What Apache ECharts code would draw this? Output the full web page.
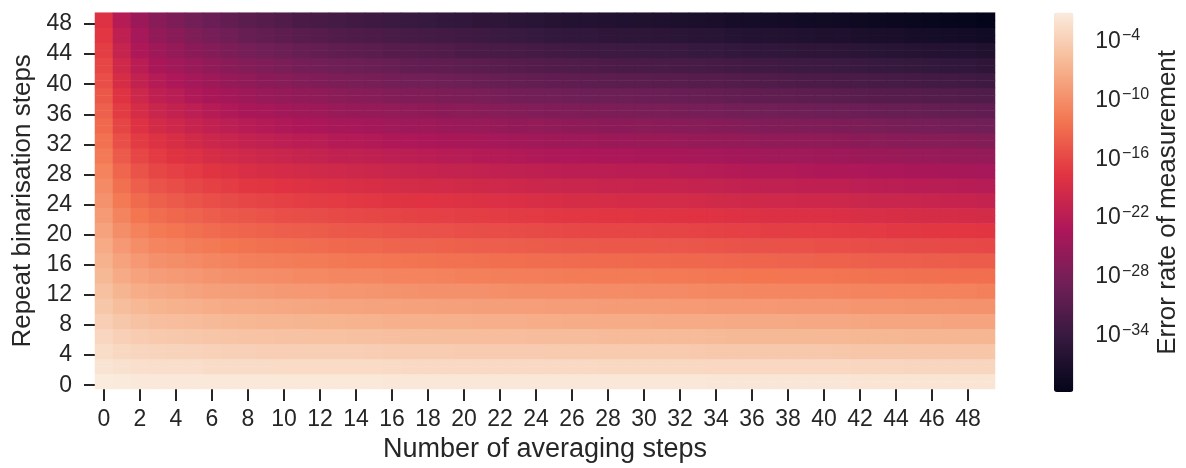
<!DOCTYPE html>
<html><head><meta charset="utf-8">
<script src="https://cdn.jsdelivr.net/npm/echarts@6/dist/echarts.min.js"></script>
<style>html,body{margin:0;padding:0;background:#fff}#c{width:1186px;height:468px}</style>
</head><body><div id="c"></div>
<script>
// x categories: number of averaging steps
const averagingSteps = ['0','1','2','3','4','5','6','7','8','9','10','11','12','13','14','15','16','17','18','19','20','21','22','23','24','25','26','27','28','29','30','31','32','33','34','35','36','37','38','39','40','41','42','43','44','45','46','47','48','49'];
// y categories: repeat binarisation steps
const repeatSteps = ['0','1','2','3','4','5','6','7','8','9','10','11','12','13','14','15','16','17','18','19','20','21','22','23','24','25','26','27','28','29','30','31','32','33','34','35','36','37','38','39','40','41','42','43','44','45','46','47','48','49'];
// colour-bar tick exponents (log10 of error rate)
const colorbarTicks = [-4, -10, -16, -22, -28, -34];
const colorRange = [-39.8, -1.2];
const rocket = ['#03051A','#35193E','#701F57','#AD1759','#E13342','#F37651','#F6B48F','#FAEBDD'];
// log10(error rate); one list per averaging step,
// one value per pair of repeat-binarisation rows (0-1, 2-3, ..., 48-49)
const logErrorByAveraging = [
[-1.2,-1.9,-2.6,-3.3,-4,-4.8,-5.5,-6.2,-6.9,-7.6,-8.3,-9,-9.7,-10.4,-11.1,-11.9,-12.6,-13.3,-14,-14.7,-15.4,-16.1,-16.8,-17.5,-18.2],
[-1.3,-2.2,-3.1,-3.9,-4.8,-5.7,-6.6,-7.5,-8.3,-9.2,-10.1,-11,-11.9,-12.7,-13.6,-14.5,-15.4,-16.3,-17.1,-18,-18.9,-19.8,-20.7,-21.5,-22.4],
[-1.4,-2.4,-3.4,-4.3,-5.3,-6.3,-7.3,-8.3,-9.2,-10.2,-11.2,-12.2,-13.2,-14.1,-15.1,-16.1,-17.1,-18.1,-19,-20,-21,-22,-23,-23.9,-24.9],
[-1.4,-2.5,-3.5,-4.6,-5.6,-6.7,-7.7,-8.8,-9.8,-10.9,-11.9,-13,-14,-15.1,-16.1,-17.2,-18.2,-19.3,-20.3,-21.4,-22.4,-23.5,-24.5,-25.6,-26.6],
[-1.4,-2.5,-3.6,-4.7,-5.8,-6.9,-7.9,-9,-10.1,-11.2,-12.3,-13.4,-14.5,-15.6,-16.7,-17.8,-18.8,-19.9,-21,-22.1,-23.2,-24.3,-25.4,-26.5,-27.6],
[-1.4,-2.5,-3.7,-4.8,-5.9,-7.1,-8.2,-9.3,-10.4,-11.6,-12.7,-13.8,-15,-16.1,-17.2,-18.4,-19.5,-20.6,-21.7,-22.9,-24,-25.1,-26.3,-27.4,-28.5],
[-1.5,-2.7,-3.8,-5,-6.1,-7.3,-8.5,-9.6,-10.8,-11.9,-13.1,-14.3,-15.4,-16.6,-17.7,-18.9,-20.1,-21.2,-22.4,-23.5,-24.7,-25.9,-27,-28.2,-29.3],
[-1.5,-2.7,-3.9,-5.1,-6.3,-7.5,-8.6,-9.8,-11,-12.2,-13.4,-14.6,-15.8,-17,-18.2,-19.4,-20.5,-21.7,-22.9,-24.1,-25.3,-26.5,-27.7,-28.9,-30.1],
[-1.5,-2.7,-3.9,-5.2,-6.4,-7.6,-8.8,-10,-11.3,-12.5,-13.7,-14.9,-16.1,-17.4,-18.6,-19.8,-21,-22.2,-23.5,-24.7,-25.9,-27.1,-28.3,-29.6,-30.8],
[-1.5,-2.7,-4,-5.2,-6.5,-7.7,-8.9,-10.2,-11.4,-12.7,-13.9,-15.1,-16.4,-17.6,-18.9,-20.1,-21.3,-22.6,-23.8,-25.1,-26.3,-27.5,-28.8,-30,-31.3],
[-1.5,-2.8,-4,-5.3,-6.5,-7.8,-9.1,-10.3,-11.6,-12.8,-14.1,-15.4,-16.6,-17.9,-19.1,-20.4,-21.7,-22.9,-24.2,-25.4,-26.7,-28,-29.2,-30.5,-31.7],
[-1.5,-2.8,-4.1,-5.3,-6.6,-7.9,-9.2,-10.5,-11.7,-13,-14.3,-15.6,-16.9,-18.1,-19.4,-20.7,-22,-23.3,-24.5,-25.8,-27.1,-28.4,-29.7,-30.9,-32.2],
[-1.5,-2.8,-4.1,-5.4,-6.7,-8,-9.2,-10.5,-11.8,-13.1,-14.4,-15.7,-17,-18.3,-19.6,-20.9,-22.1,-23.4,-24.7,-26,-27.3,-28.6,-29.9,-31.2,-32.5],
[-1.5,-2.8,-4.1,-5.4,-6.7,-8.1,-9.4,-10.7,-12,-13.3,-14.6,-15.9,-17.2,-18.5,-19.8,-21.2,-22.5,-23.8,-25.1,-26.4,-27.7,-29,-30.3,-31.6,-32.9],
[-1.5,-2.8,-4.1,-5.5,-6.8,-8.1,-9.4,-10.7,-12.1,-13.4,-14.7,-16,-17.3,-18.7,-20,-21.3,-22.6,-23.9,-25.3,-26.6,-27.9,-29.2,-30.5,-31.9,-33.2],
[-1.5,-2.8,-4.2,-5.5,-6.8,-8.2,-9.5,-10.8,-12.1,-13.5,-14.8,-16.1,-17.5,-18.8,-20.1,-21.5,-22.8,-24.1,-25.4,-26.8,-28.1,-29.4,-30.8,-32.1,-33.4],
[-1.6,-2.9,-4.3,-5.6,-7,-8.3,-9.6,-11,-12.3,-13.7,-15,-16.3,-17.7,-19,-20.4,-21.7,-23,-24.4,-25.7,-27.1,-28.4,-29.7,-31.1,-32.4,-33.8],
[-1.6,-3,-4.3,-5.7,-7,-8.4,-9.7,-11.1,-12.4,-13.8,-15.1,-16.5,-17.8,-19.2,-20.5,-21.9,-23.2,-24.6,-25.9,-27.3,-28.6,-30,-31.3,-32.7,-34],
[-1.6,-3,-4.3,-5.7,-7,-8.4,-9.8,-11.1,-12.5,-13.8,-15.2,-16.6,-17.9,-19.3,-20.6,-22,-23.4,-24.7,-26.1,-27.4,-28.8,-30.2,-31.5,-32.9,-34.2],
[-1.6,-3,-4.3,-5.7,-7.1,-8.5,-9.8,-11.2,-12.6,-13.9,-15.3,-16.7,-18,-19.4,-20.8,-22.2,-23.5,-24.9,-26.3,-27.6,-29,-30.4,-31.7,-33.1,-34.5],
[-1.6,-3,-4.4,-5.7,-7.1,-8.5,-9.9,-11.3,-12.6,-14,-15.4,-16.8,-18.2,-19.5,-20.9,-22.3,-23.7,-25.1,-26.4,-27.8,-29.2,-30.6,-32,-33.3,-34.7],
[-1.6,-3,-4.4,-5.8,-7.2,-8.6,-9.9,-11.3,-12.7,-14.1,-15.5,-16.9,-18.3,-19.7,-21.1,-22.5,-23.8,-25.2,-26.6,-28,-29.4,-30.8,-32.2,-33.6,-35],
[-1.6,-3,-4.4,-5.8,-7.2,-8.6,-10,-11.4,-12.8,-14.2,-15.6,-17,-18.4,-19.8,-21.2,-22.6,-24,-25.4,-26.8,-28.2,-29.6,-31,-32.4,-33.8,-35.2],
[-1.6,-3,-4.4,-5.8,-7.2,-8.7,-10.1,-11.5,-12.9,-14.3,-15.7,-17.1,-18.5,-19.9,-21.3,-22.8,-24.2,-25.6,-27,-28.4,-29.8,-31.2,-32.6,-34,-35.4],
[-1.6,-3,-4.4,-5.9,-7.3,-8.7,-10.1,-11.5,-13,-14.4,-15.8,-17.2,-18.6,-20.1,-21.5,-22.9,-24.3,-25.7,-27.2,-28.6,-30,-31.4,-32.8,-34.3,-35.7],
[-1.6,-3,-4.5,-5.9,-7.3,-8.8,-10.2,-11.6,-13,-14.5,-15.9,-17.3,-18.8,-20.2,-21.6,-23.1,-24.5,-25.9,-27.3,-28.8,-30.2,-31.6,-33.1,-34.5,-35.9],
[-1.6,-3,-4.5,-5.9,-7.4,-8.8,-10.2,-11.7,-13.1,-14.6,-16,-17.4,-18.9,-20.3,-21.8,-23.2,-24.6,-26.1,-27.5,-29,-30.4,-31.8,-33.3,-34.7,-36.2],
[-1.6,-3,-4.5,-5.9,-7.4,-8.8,-10.3,-11.7,-13.2,-14.6,-16.1,-17.5,-18.9,-20.4,-21.8,-23.3,-24.7,-26.2,-27.6,-29.1,-30.5,-31.9,-33.4,-34.8,-36.3],
[-1.6,-3.1,-4.5,-6,-7.4,-8.9,-10.3,-11.8,-13.2,-14.7,-16.1,-17.6,-19,-20.5,-21.9,-23.4,-24.8,-26.3,-27.7,-29.2,-30.6,-32.1,-33.5,-35,-36.4],
[-1.6,-3.1,-4.5,-6,-7.4,-8.9,-10.3,-11.8,-13.2,-14.7,-16.2,-17.6,-19.1,-20.5,-22,-23.4,-24.9,-26.3,-27.8,-29.2,-30.7,-32.2,-33.6,-35.1,-36.5],
[-1.6,-3.1,-4.5,-6,-7.4,-8.9,-10.4,-11.8,-13.3,-14.7,-16.2,-17.7,-19.1,-20.6,-22,-23.5,-25,-26.4,-27.9,-29.3,-30.8,-32.3,-33.7,-35.2,-36.6],
[-1.6,-3.1,-4.5,-6,-7.5,-8.9,-10.4,-11.9,-13.3,-14.8,-16.3,-17.7,-19.2,-20.6,-22.1,-23.6,-25,-26.5,-28,-29.4,-30.9,-32.4,-33.8,-35.3,-36.8],
[-1.6,-3.1,-4.5,-6,-7.5,-9,-10.4,-11.9,-13.4,-14.8,-16.3,-17.8,-19.2,-20.7,-22.2,-23.7,-25.1,-26.6,-28.1,-29.5,-31,-32.5,-33.9,-35.4,-36.9],
[-1.6,-3.1,-4.6,-6,-7.5,-9,-10.5,-12,-13.4,-14.9,-16.4,-17.9,-19.4,-20.8,-22.3,-23.8,-25.3,-26.8,-28.2,-29.7,-31.2,-32.7,-34.2,-35.6,-37.1],
[-1.7,-3.2,-4.7,-6.1,-7.6,-9.1,-10.6,-12.1,-13.5,-15,-16.5,-18,-19.5,-20.9,-22.4,-23.9,-25.4,-26.9,-28.3,-29.8,-31.3,-32.8,-34.3,-35.7,-37.2],
[-1.7,-3.2,-4.7,-6.2,-7.7,-9.2,-10.6,-12.1,-13.6,-15.1,-16.6,-18.1,-19.6,-21.1,-22.6,-24.1,-25.5,-27,-28.5,-30,-31.5,-33,-34.5,-36,-37.5],
[-1.7,-3.2,-4.7,-6.2,-7.7,-9.2,-10.7,-12.2,-13.7,-15.2,-16.7,-18.2,-19.7,-21.2,-22.7,-24.2,-25.7,-27.2,-28.7,-30.2,-31.7,-33.2,-34.7,-36.2,-37.7],
[-1.7,-3.2,-4.7,-6.2,-7.7,-9.2,-10.7,-12.2,-13.7,-15.2,-16.8,-18.3,-19.8,-21.3,-22.8,-24.3,-25.8,-27.3,-28.8,-30.3,-31.8,-33.3,-34.8,-36.3,-37.8],
[-1.7,-3.2,-4.7,-6.2,-7.7,-9.3,-10.8,-12.3,-13.8,-15.3,-16.8,-18.3,-19.8,-21.3,-22.8,-24.4,-25.9,-27.4,-28.9,-30.4,-31.9,-33.4,-34.9,-36.4,-37.9],
[-1.7,-3.2,-4.7,-6.2,-7.8,-9.3,-10.8,-12.3,-13.8,-15.3,-16.9,-18.4,-19.9,-21.4,-22.9,-24.4,-25.9,-27.5,-29,-30.5,-32,-33.5,-35,-36.5,-38.1],
[-1.7,-3.2,-4.7,-6.3,-7.8,-9.3,-10.8,-12.3,-13.9,-15.4,-16.9,-18.4,-19.9,-21.5,-23,-24.5,-26,-27.5,-29.1,-30.6,-32.1,-33.6,-35.1,-36.7,-38.2],
[-1.7,-3.2,-4.8,-6.3,-7.8,-9.3,-10.9,-12.4,-13.9,-15.4,-17,-18.5,-20,-21.5,-23.1,-24.6,-26.1,-27.6,-29.2,-30.7,-32.2,-33.7,-35.3,-36.8,-38.3],
[-1.8,-3.3,-4.9,-6.4,-7.9,-9.5,-11,-12.5,-14,-15.6,-17.1,-18.6,-20.2,-21.7,-23.2,-24.8,-26.3,-27.8,-29.3,-30.9,-32.4,-33.9,-35.5,-37,-38.5],
[-1.8,-3.3,-4.9,-6.4,-8,-9.5,-11,-12.6,-14.1,-15.7,-17.2,-18.7,-20.3,-21.8,-23.4,-24.9,-26.4,-28,-29.5,-31.1,-32.6,-34.1,-35.7,-37.2,-38.8],
[-1.8,-3.3,-4.9,-6.4,-8,-9.5,-11.1,-12.6,-14.2,-15.7,-17.3,-18.8,-20.3,-21.9,-23.4,-25,-26.5,-28.1,-29.6,-31.2,-32.7,-34.2,-35.8,-37.3,-38.9],
[-1.8,-3.4,-4.9,-6.5,-8,-9.6,-11.1,-12.7,-14.2,-15.8,-17.3,-18.9,-20.4,-22,-23.5,-25.1,-26.6,-28.2,-29.7,-31.3,-32.8,-34.4,-35.9,-37.5,-39],
[-1.8,-3.4,-4.9,-6.5,-8,-9.6,-11.2,-12.7,-14.3,-15.8,-17.4,-19,-20.5,-22.1,-23.6,-25.2,-26.8,-28.3,-29.9,-31.4,-33,-34.6,-36.1,-37.7,-39.2],
[-1.8,-3.4,-4.9,-6.5,-8.1,-9.6,-11.2,-12.8,-14.3,-15.9,-17.5,-19,-20.6,-22.1,-23.7,-25.3,-26.8,-28.4,-30,-31.5,-33.1,-34.7,-36.2,-37.8,-39.4],
[-1.8,-3.4,-4.9,-6.5,-8.1,-9.7,-11.2,-12.8,-14.4,-15.9,-17.5,-19.1,-20.6,-22.2,-23.8,-25.4,-26.9,-28.5,-30.1,-31.6,-33.2,-34.8,-36.3,-37.9,-39.5],
[-1.8,-3.4,-5,-6.5,-8.1,-9.7,-11.3,-12.9,-14.4,-16,-17.6,-19.2,-20.8,-22.3,-23.9,-25.5,-27.1,-28.7,-30.2,-31.8,-33.4,-35,-36.6,-38.1,-39.7]
];

// each listed value covers two repeat-binarisation rows
const cells = [];
logErrorByAveraging.forEach((col, n) => {
  col.forEach((v, k) => {
    cells.push([n, 2 * k, v]);
    cells.push([n, 2 * k + 1, v]);
  });
});

const ink = '#262626';
const font = '"Liberation Sans", Arial, Helvetica, sans-serif';
const tickLine = { color: ink, width: 2 };

const chart = echarts.init(document.getElementById('c'), null, { renderer: 'canvas' });
chart.setOption({
  animation: false,
  backgroundColor: '#ffffff',
  textStyle: { fontFamily: font, color: ink },
  grid: [
    { left: 95, top: 12.7, width: 900, height: 379.4 },
    { left: 1054, top: 12.7, width: 19.3, height: 379.4 }
  ],
  xAxis: [
    {
      type: 'category', gridIndex: 0, data: averagingSteps,
      axisLine: { show: false }, splitLine: { show: false },
      axisTick: { show: true, alignWithLabel: true, interval: 1, length: 12, lineStyle: tickLine },
      axisLabel: { interval: 1, fontSize: 23, color: ink, margin: 19, fontFamily: font },
      name: 'Number of averaging steps', nameLocation: 'middle', nameGap: 47,
      nameTextStyle: { fontSize: 27, color: ink, fontFamily: font }
    },
    { type: 'value', gridIndex: 1, show: false, min: 0, max: 1 }
  ],
  yAxis: [
    {
      type: 'category', gridIndex: 0, data: repeatSteps,
      axisLine: { show: false }, splitLine: { show: false },
      axisTick: { show: true, alignWithLabel: true, interval: 3, length: 11, lineStyle: tickLine },
      axisLabel: { interval: 3, fontSize: 23, color: ink, margin: 23, fontFamily: font },
      name: 'Repeat binarisation steps', nameLocation: 'middle', nameGap: 59,
      nameTextStyle: { fontSize: 26, color: ink, fontFamily: font }
    },
    {
      type: 'value', gridIndex: 1, position: 'right',
      min: colorRange[0], max: colorRange[1],
      axisLine: { show: false }, splitLine: { show: false },
      axisTick: { show: true, customValues: colorbarTicks, length: 12, lineStyle: tickLine },
      axisLabel: {
        customValues: colorbarTicks, margin: 22, color: ink, fontFamily: font,
        formatter: v => '{b|10}{s|\u2212' + Math.abs(v) + '}',
        rich: {
          b: { fontSize: 23, lineHeight: 25, verticalAlign: 'bottom', color: ink, fontFamily: font },
          s: { fontSize: 16, lineHeight: 18, verticalAlign: 'top', padding: [0, 0, 16, 1], color: ink, fontFamily: font }
        }
      },
      name: 'Error rate of measurement', nameLocation: 'middle', nameGap: 82,
      nameTextStyle: { fontSize: 26, color: ink, fontFamily: font }
    }
  ],
  visualMap: {
    type: 'continuous', min: colorRange[0], max: colorRange[1],
    seriesIndex: 0, dimension: 2, calculable: false, hoverLink: false,
    inRange: { color: rocket },
    left: 1054, top: 12.7, itemWidth: 19.3, itemHeight: 379.4, padding: 0,
    text: ['', ''], textGap: 0, orient: 'vertical'
  },
  series: [{
    type: 'heatmap', xAxisIndex: 0, yAxisIndex: 0, data: cells,
    progressive: 0, emphasis: { disabled: true },
    itemStyle: { borderWidth: 0 }
  }]
});
</script>
</body></html>
